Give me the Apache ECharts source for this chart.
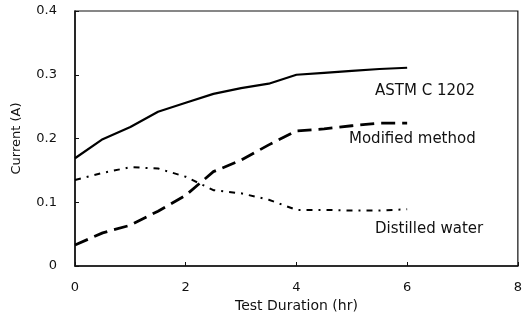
<!DOCTYPE html>
<html>
<head>
<meta charset="utf-8">
<script src="https://cdn.jsdelivr.net/npm/echarts@6/dist/echarts.min.js"></script>
<style>
  html, body { margin: 0; padding: 0; background: #fff; }
  #chart { width: 525px; height: 322px; }
</style>
</head>
<body>
<div id="chart"></div>
<script>
// test duration (hr)
const hours = [0, 0.5, 1, 1.5, 2, 2.5, 3, 3.5, 4, 4.5, 5, 5.5, 6];

// current (A)
const astm = [0.169, 0.199, 0.218, 0.242, 0.256, 0.270, 0.279, 0.286, 0.300, 0.303, 0.306, 0.309, 0.311];
const modified = [0.033, 0.052, 0.064, 0.086, 0.111, 0.148, 0.166, 0.190, 0.212, 0.215, 0.220, 0.224, 0.224];
const distilled = [0.135, 0.146, 0.155, 0.153, 0.140, 0.119, 0.114, 0.104, 0.088, 0.088, 0.087, 0.087, 0.089];

const xTicks = [0, 2, 4, 6, 8];
const yTicks = [0, 0.1, 0.2, 0.3, 0.4];

const chart = echarts.init(document.getElementById('chart'));

const pairs = (arr) => hours.map((h, i) => [h, arr[i]]);
const font = 'DejaVu Sans, Verdana, sans-serif';

const option = {
  animation: false,
  grid: {
    left: 75, right: 4, top: 11, bottom: 56,
    show: true,
    borderColor: '#111',
    borderWidth: 1.2,
  },
  xAxis: {
    type: 'value',
    min: xTicks[0],
    max: xTicks[xTicks.length - 1],
    interval: 2,
    name: 'Test Duration (hr)',
    nameLocation: 'middle',
    nameGap: 31,
    nameTextStyle: { color: '#111', fontSize: 14, fontFamily: font },
    axisLine: { lineStyle: { color: '#111', width: 1.5 } },
    axisTick: { inside: true, length: 4, lineStyle: { color: '#111' } },
    axisLabel: { color: '#111', fontSize: 13, fontFamily: font, margin: 15 },
    splitLine: { show: false },
  },
  yAxis: {
    type: 'value',
    min: yTicks[0],
    max: yTicks[yTicks.length - 1],
    interval: 0.1,
    name: 'Current (A)',
    nameLocation: 'middle',
    nameGap: 52,
    nameTextStyle: { color: '#111', fontSize: 13, fontFamily: font },
    axisLine: { lineStyle: { color: '#111', width: 1.5 } },
    axisTick: { inside: true, length: 4, lineStyle: { color: '#111' } },
    axisLabel: {
      color: '#111', fontSize: 13, fontFamily: font, margin: 18,
      formatter: (v) => (v === 0 ? '0' : v.toFixed(1)),
    },
    splitLine: { show: false },
  },
  series: [
    {
      name: 'ASTM C 1202',
      type: 'line',
      data: pairs(astm),
      showSymbol: false,
      lineStyle: { color: '#000', width: 2.2 },
    },
    {
      name: 'Modified method',
      type: 'line',
      data: pairs(modified),
      showSymbol: false,
      lineStyle: { color: '#000', width: 2.8, type: [14, 7] },
    },
    {
      name: 'Distilled water',
      type: 'line',
      data: pairs(distilled),
      showSymbol: false,
      lineStyle: { color: '#000', width: 2, type: [6, 6, 2, 6] },
    },
  ],
  graphic: [
    { type: 'text', left: 375, top: 84, style: { text: 'ASTM C 1202', fill: '#111', font: '15px ' + font } },
    { type: 'text', left: 349, top: 132, style: { text: 'Modified method', fill: '#111', font: '15px ' + font } },
    { type: 'text', left: 375, top: 222, style: { text: 'Distilled water', fill: '#111', font: '15px ' + font } },
  ],
};

chart.setOption(option);
</script>
</body>
</html>
